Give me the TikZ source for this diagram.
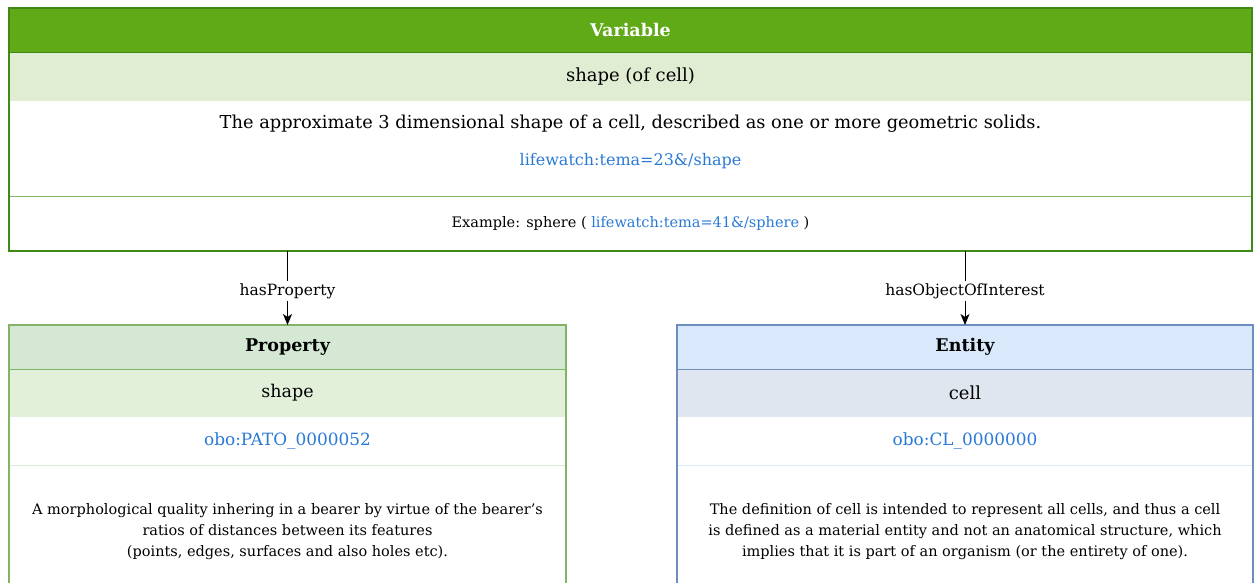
\documentclass[tikz,border=0pt]{standalone}
\usepackage{fontspec}
\setmainfont{DejaVu Serif}
\usetikzlibrary{arrows.meta}
\definecolor{vgreen}{HTML}{60A917}
\definecolor{vstroke}{HTML}{3F8A14}
\definecolor{vlight}{HTML}{E0EDD3}
\definecolor{vsep}{HTML}{82B366}
\definecolor{pfill}{HTML}{D5E8D4}
\definecolor{plight}{HTML}{E2EFD9}
\definecolor{pstroke}{HTML}{82B366}
\definecolor{psep}{HTML}{DCEBD6}
\definecolor{efill}{HTML}{DAE8FC}
\definecolor{elight}{HTML}{E0E6F0}
\definecolor{estroke}{HTML}{6C8EBF}
\definecolor{esep}{HTML}{DAE8FC}
\definecolor{link}{HTML}{2A7AD5}
\begin{document}
\begin{tikzpicture}[x=1pt,y=-1pt,
  cell/.style={rectangle, inner sep=0pt, outer sep=0pt, draw=none, align=center},
  txt/.style={inner sep=1pt, align=center},
  conn/.style={draw=black, line width=1pt, -{Stealth[length=11pt,width=9pt,inset=3pt]}},
  clabel/.style={fill=white, inner sep=2pt, font=\fontsize{15.5}{18}\selectfont}
]
\clip (0,0) rectangle (1255,582);
\fill[white] (0,0) rectangle (1255,582);

% ---------- Variable ----------
\node[cell, fill=vgreen, minimum width=1243pt, minimum height=44pt, text=white,
  font=\fontsize{17.5}{20}\selectfont\bfseries] (vhead) at (630.5,30) {Variable};
\node[cell, fill=vlight, minimum width=1243pt, minimum height=49pt,
  font=\fontsize{18}{21}\selectfont] (vname) at (630.5,76.5) {shape (of cell)};
\node[cell, fill=white, minimum width=1243pt, minimum height=94pt] (vdesc) at (630.5,148) {};
\node[txt, font=\fontsize{17.8}{21}\selectfont] (vdtext) at (630.5,123.5)
  {The approximate 3 dimensional shape of a cell, described as one or more geometric solids.};
\node[txt, text=link, font=\fontsize{16}{19}\selectfont] (vlink) at (630.5,161)
  {lifewatch:tema=23\&/shape};
\node[cell, fill=white, minimum width=1243pt, minimum height=55pt,
  font=\fontsize{14.5}{17}\selectfont] (vex) at (630.5,223.5)
  {Example: sphere ( \textcolor{link}{lifewatch:tema=41\&/sphere} )};
\draw[vstroke, line width=1pt] (vhead.south west) -- (vhead.south east);
\draw[vsep, line width=1pt] (vex.north west) -- (vex.north east);
\draw[vstroke, line width=1.4pt] (vhead.north west) rectangle (vex.south east);

% ---------- Property ----------
\node[cell, fill=pfill, minimum width=557pt, minimum height=44pt,
  font=\fontsize{17.5}{20}\selectfont\bfseries] (phead) at (287.5,347) {Property};
\node[cell, fill=plight, minimum width=557pt, minimum height=48pt,
  font=\fontsize{17.5}{20}\selectfont] (pname) at (287.5,393) {shape};
\node[cell, fill=white, minimum width=557pt, minimum height=48pt, text=link,
  font=\fontsize{16.9}{19}\selectfont] (pobo) at (287.5,441) {obo:PATO\_0000052};
\node[cell, fill=white, minimum width=557pt, minimum height=130pt,
  font=\fontsize{14.5}{21}\selectfont] (pdesc) at (287.5,531.5)
  {A morphological quality inhering in a bearer by virtue of the bearer's\\
   ratios of distances between its features\\
   (points, edges, surfaces and also holes etc).};
\draw[pstroke, line width=1pt] (phead.south west) -- (phead.south east);
\draw[psep, line width=1pt] (pobo.south west) -- (pobo.south east);
\draw[pstroke, line width=1.2pt] (phead.north west) rectangle (pdesc.south east);

% ---------- Entity ----------
\node[cell, fill=efill, minimum width=576pt, minimum height=44pt,
  font=\fontsize{17.5}{20}\selectfont\bfseries] (ehead) at (965,347) {Entity};
\node[cell, fill=elight, minimum width=576pt, minimum height=48pt,
  font=\fontsize{18}{21}\selectfont] (ename) at (965,393) {cell};
\node[cell, fill=white, minimum width=576pt, minimum height=48pt, text=link,
  font=\fontsize{16.9}{19}\selectfont] (eobo) at (965,441) {obo:CL\_0000000};
\node[cell, fill=white, minimum width=576pt, minimum height=130pt,
  font=\fontsize{14.5}{21}\selectfont] (edesc) at (965,531.5)
  {The definition of cell is intended to represent all cells, and thus a cell\\
   is defined as a material entity and not an anatomical structure, which\\
   implies that it is part of an organism (or the entirety of one).};
\draw[estroke, line width=1pt] (ehead.south west) -- (ehead.south east);
\draw[esep, line width=1pt] (eobo.south west) -- (eobo.south east);
\draw[estroke, line width=1.2pt] (ehead.north west) rectangle (edesc.south east);

% ---------- Connectors ----------
\draw[conn] (vex.south -| phead.north) -- node[clabel, pos=0.54] (lprop) {hasProperty} (phead.north);
\draw[conn] (vex.south -| ehead.north) -- node[clabel, pos=0.54] (lent) {hasObjectOfInterest} (ehead.north);
\end{tikzpicture}
\end{document}
